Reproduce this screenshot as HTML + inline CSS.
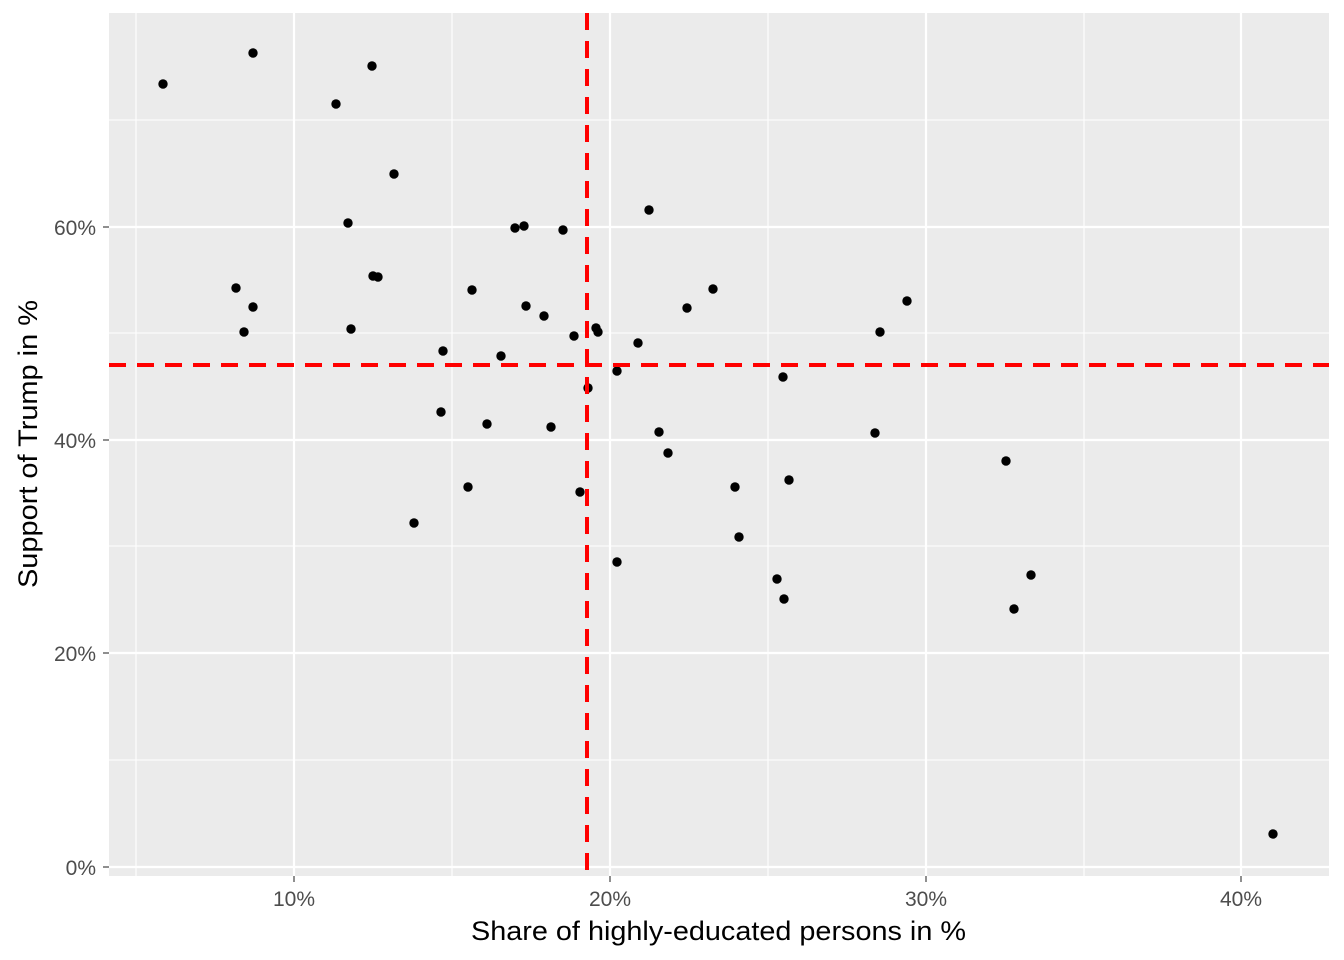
<!DOCTYPE html>
<html><head><meta charset="utf-8"><style>
html,body{margin:0;padding:0;background:#fff;}
svg{display:block;font-family:"Liberation Sans",Arial,sans-serif;}
</style></head><body>
<svg width="1344" height="960" viewBox="0 0 1344 960" xmlns="http://www.w3.org/2000/svg">
<rect x="0" y="0" width="1344" height="960" fill="#fff"/>
<rect x="109" y="13" width="1220" height="863" fill="#ebebeb"/>
<g stroke="#fff" stroke-width="1.1">
<line x1="136" y1="13" x2="136" y2="876"/><line x1="452" y1="13" x2="452" y2="876"/><line x1="768" y1="13" x2="768" y2="876"/><line x1="1084" y1="13" x2="1084" y2="876"/>
<line x1="109" y1="760" x2="1329" y2="760"/><line x1="109" y1="546" x2="1329" y2="546"/><line x1="109" y1="333" x2="1329" y2="333"/><line x1="109" y1="120" x2="1329" y2="120"/>
</g>
<g stroke="#fff" stroke-width="2.2">
<line x1="294" y1="13" x2="294" y2="876"/><line x1="610" y1="13" x2="610" y2="876"/><line x1="926" y1="13" x2="926" y2="876"/><line x1="1241" y1="13" x2="1241" y2="876"/>
<line x1="109" y1="867" x2="1329" y2="867"/><line x1="109" y1="653" x2="1329" y2="653"/><line x1="109" y1="440" x2="1329" y2="440"/><line x1="109" y1="227" x2="1329" y2="227"/>
</g>
<g fill="#000">
<circle cx="163" cy="84" r="4.7"/><circle cx="253" cy="53" r="4.7"/><circle cx="372" cy="66" r="4.7"/><circle cx="336" cy="104" r="4.7"/><circle cx="394" cy="174" r="4.7"/><circle cx="348" cy="223" r="4.7"/><circle cx="236" cy="288" r="4.7"/><circle cx="253" cy="307" r="4.7"/><circle cx="244" cy="332" r="4.7"/><circle cx="373" cy="276" r="4.7"/><circle cx="378" cy="277" r="4.7"/><circle cx="351" cy="329" r="4.7"/><circle cx="443" cy="351" r="4.7"/><circle cx="441" cy="412" r="4.7"/><circle cx="414" cy="523" r="4.7"/><circle cx="472" cy="290" r="4.7"/><circle cx="468" cy="487" r="4.7"/><circle cx="487" cy="424" r="4.7"/><circle cx="501" cy="356" r="4.7"/><circle cx="515" cy="228" r="4.7"/><circle cx="524" cy="226" r="4.7"/><circle cx="563" cy="230" r="4.7"/><circle cx="526" cy="306" r="4.7"/><circle cx="544" cy="316" r="4.7"/><circle cx="574" cy="336" r="4.7"/><circle cx="551" cy="427" r="4.7"/><circle cx="580" cy="492" r="4.7"/><circle cx="596" cy="328" r="4.7"/><circle cx="598" cy="332" r="4.7"/><circle cx="588" cy="388" r="4.7"/><circle cx="617" cy="371" r="4.7"/><circle cx="617" cy="562" r="4.7"/><circle cx="649" cy="210" r="4.7"/><circle cx="638" cy="343" r="4.7"/><circle cx="659" cy="432" r="4.7"/><circle cx="668" cy="453" r="4.7"/><circle cx="687" cy="308" r="4.7"/><circle cx="713" cy="289" r="4.7"/><circle cx="735" cy="487" r="4.7"/><circle cx="739" cy="537" r="4.7"/><circle cx="777" cy="579" r="4.7"/><circle cx="784" cy="599" r="4.7"/><circle cx="783" cy="377" r="4.7"/><circle cx="789" cy="480" r="4.7"/><circle cx="880" cy="332" r="4.7"/><circle cx="907" cy="301" r="4.7"/><circle cx="875" cy="433" r="4.7"/><circle cx="1006" cy="461" r="4.7"/><circle cx="1014" cy="609" r="4.7"/><circle cx="1031" cy="575" r="4.7"/><circle cx="1273" cy="834" r="4.7"/>
</g>
<g stroke="#ff0000" stroke-width="4" stroke-dasharray="17,11" fill="none">
<line x1="587" y1="13" x2="587" y2="876"/>
<line x1="109" y1="365" x2="1329" y2="365"/>
</g>
<g stroke="#333" stroke-width="1.1">
<line x1="294" y1="876" x2="294" y2="882"/><line x1="610" y1="876" x2="610" y2="882"/><line x1="926" y1="876" x2="926" y2="882"/><line x1="1241" y1="876" x2="1241" y2="882"/>
<line x1="103" y1="867" x2="109" y2="867"/><line x1="103" y1="653" x2="109" y2="653"/><line x1="103" y1="440" x2="109" y2="440"/><line x1="103" y1="227" x2="109" y2="227"/>
</g>
<g fill="#4d4d4d" font-size="21">
<text x="294" y="906" text-anchor="middle">10%</text><text x="610" y="906" text-anchor="middle">20%</text><text x="926" y="906" text-anchor="middle">30%</text><text x="1241" y="906" text-anchor="middle">40%</text>
<text x="96" y="875" text-anchor="end">0%</text><text x="96" y="661" text-anchor="end">20%</text><text x="96" y="448" text-anchor="end">40%</text><text x="96" y="235" text-anchor="end">60%</text>
</g>
<text x="471" y="940" font-size="27" fill="#000" textLength="495" lengthAdjust="spacingAndGlyphs">Share of highly-educated persons in %</text>
<text x="0" y="0" transform="translate(37,588) rotate(-90)" font-size="27" fill="#000" textLength="288" lengthAdjust="spacingAndGlyphs">Support of Trump in %</text>
</svg>
</body></html>
